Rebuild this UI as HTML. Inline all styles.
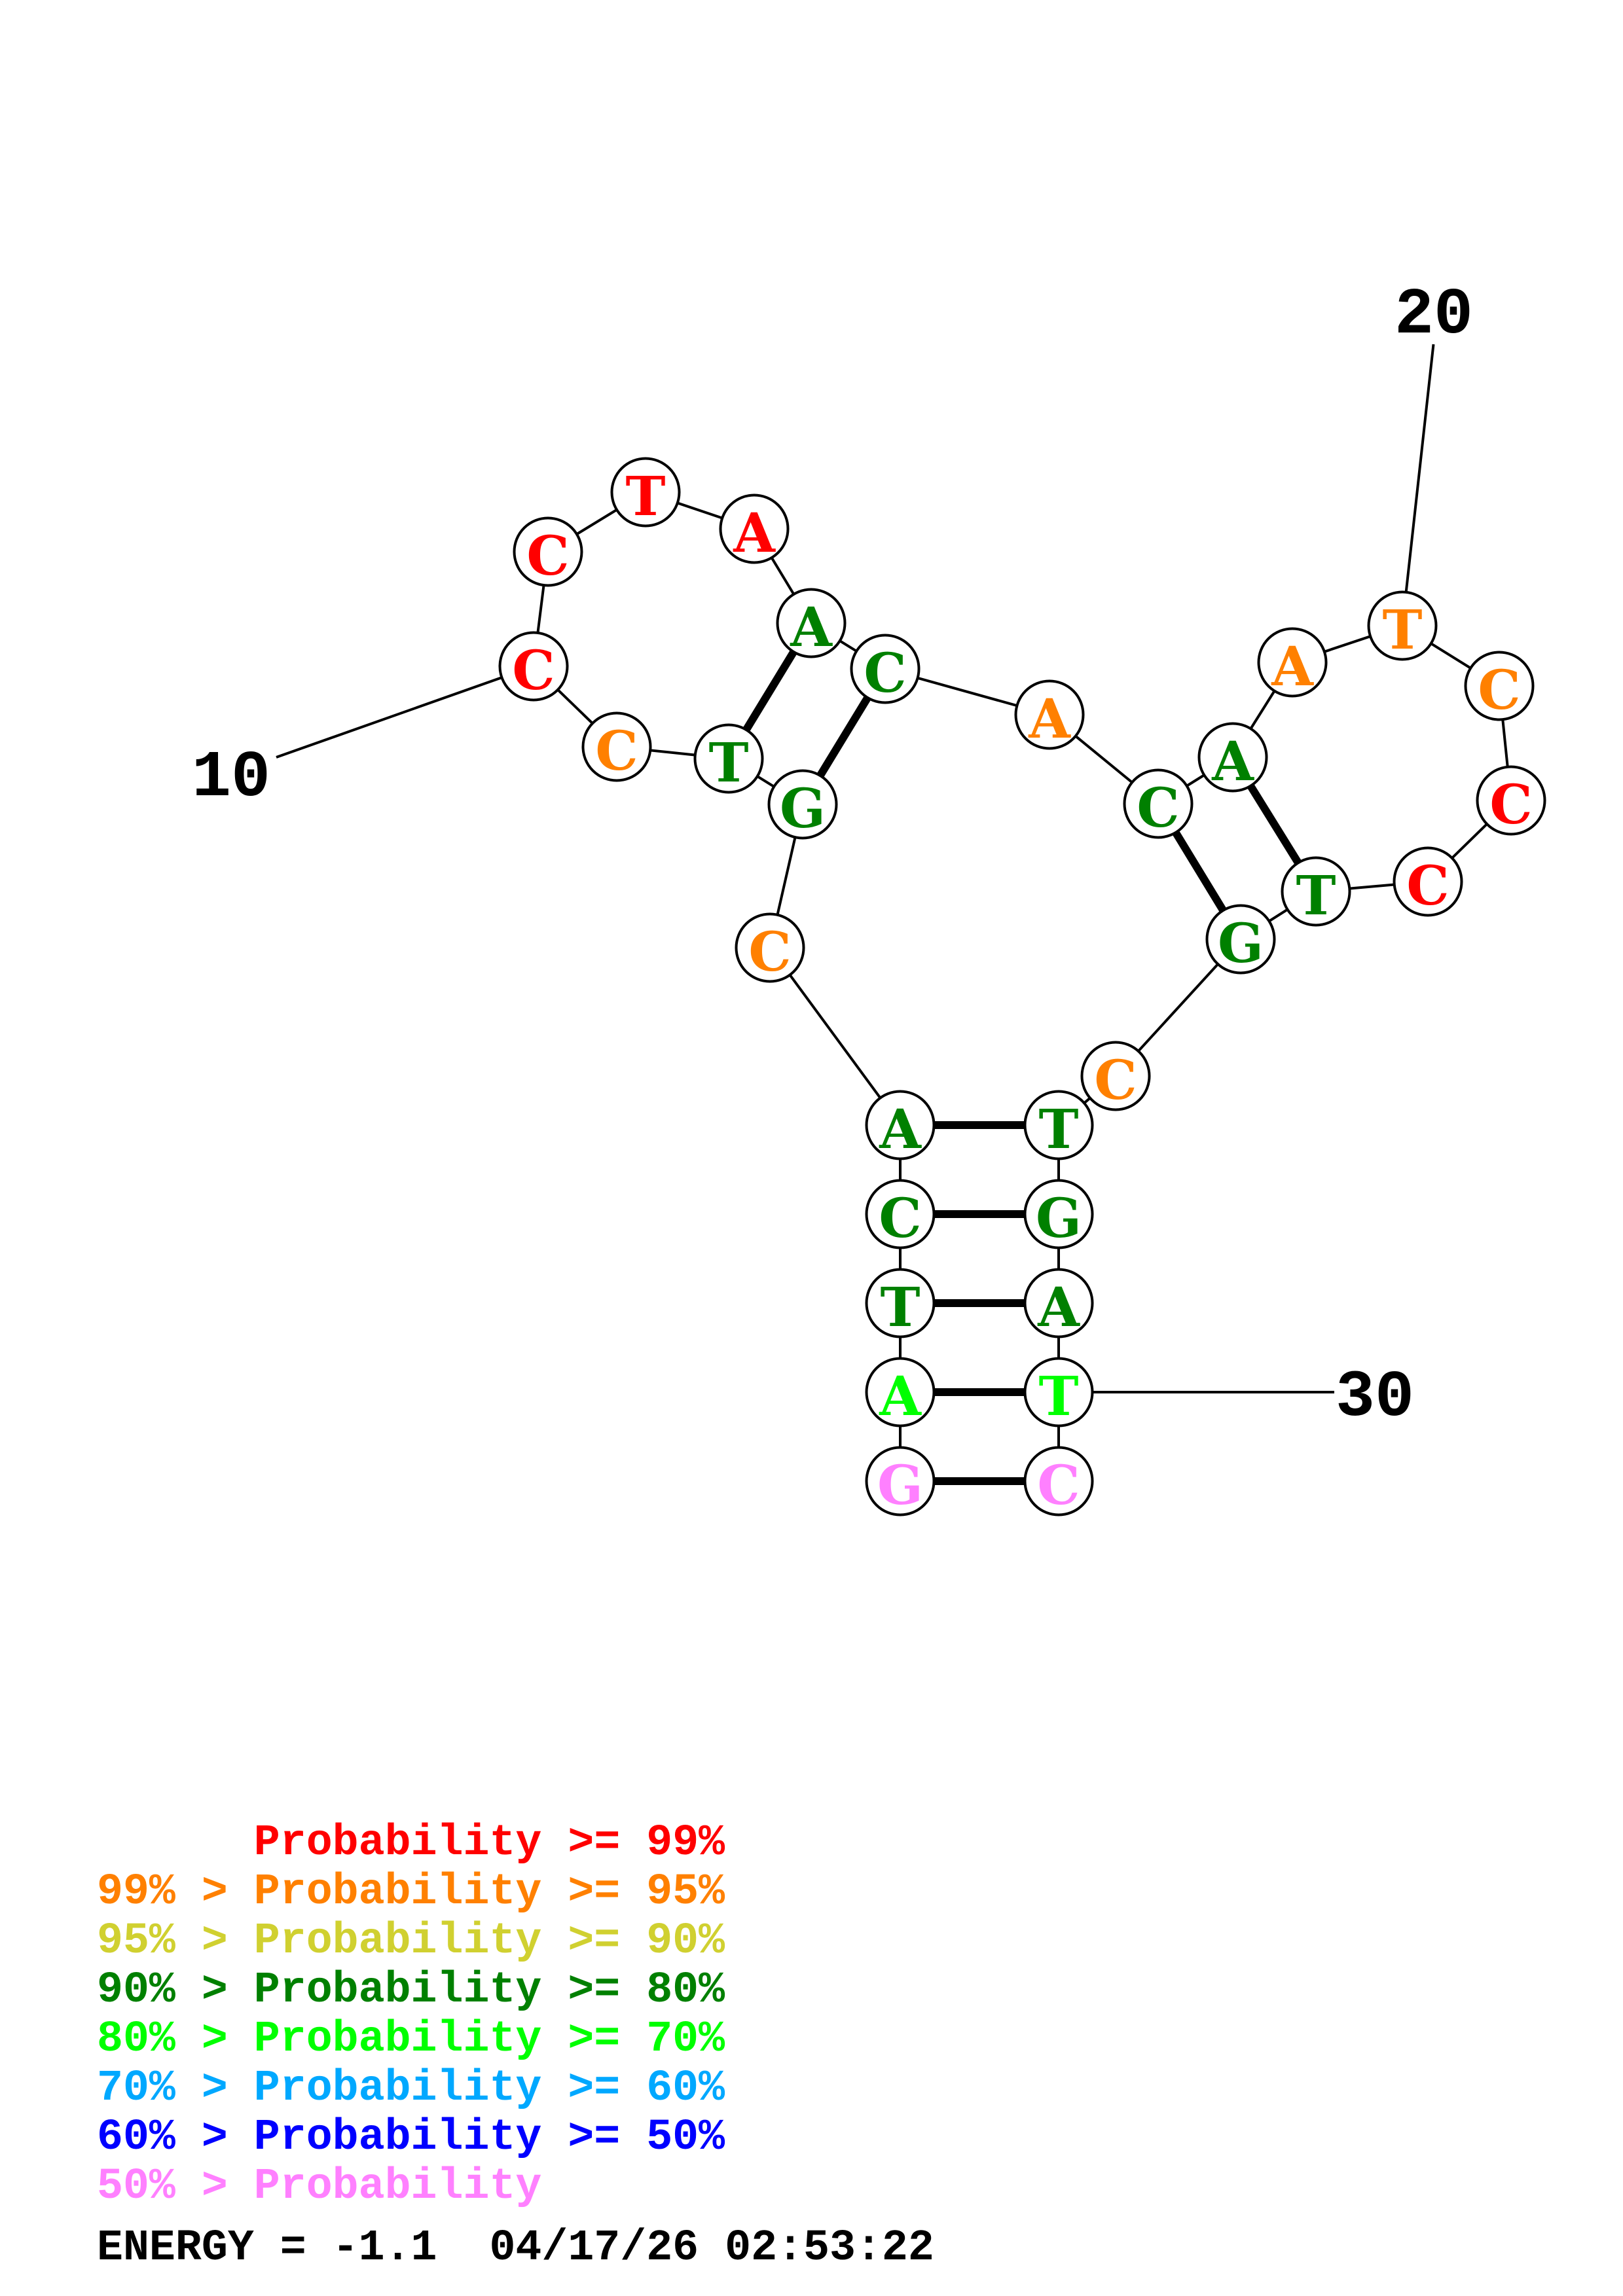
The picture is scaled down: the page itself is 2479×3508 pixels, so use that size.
<!DOCTYPE html>
<html>
<head>
<meta charset="utf-8">
<style>
  html, body { margin:0; padding:0; background:#ffffff; }
  svg { display:block; }
  .nt { font-family: "DejaVu Serif", "Liberation Serif", serif; font-weight:bold; font-size:82px; text-anchor:middle; }
  .lbl { font-family: "Liberation Mono", monospace; font-weight:bold; font-size:100px; text-anchor:middle; fill:#000; }
  .leg { font-family: "Liberation Mono", monospace; font-weight:bold; font-size:66.6px; white-space:pre; }
</style>
</head>
<body>
<svg width="2479" height="3508" viewBox="0 0 2479 3508" xmlns="http://www.w3.org/2000/svg">
  <rect x="0" y="0" width="2479" height="3508" fill="#ffffff"/>

  <!-- label lines -->
  <g stroke="#000" stroke-width="4" fill="none">
    <line x1="422" y1="1157" x2="815" y2="1018"/>
    <line x1="2189.5" y1="526" x2="2142" y2="956"/>
    <line x1="2038" y1="2127" x2="1617" y2="2127"/>
  </g>

  <!-- backbone -->
  <polyline fill="none" stroke="#000" stroke-width="4" points="
    1375,2263 1375,2127 1375,1991 1375,1855 1375,1719
    1176,1448 1226,1229 1113,1159 942,1141 815,1018
    837,843 986,752 1152,808 1239,952 1352,1022
    1603,1092 1769,1228 1883,1157 1974,1012 2142,956
    2290,1048 2308,1223 2181,1347 2010,1362 1895,1435
    1704,1644 1617,1719 1617,1855 1617,1991 1617,2127 1617,2263"/>

  <!-- base pairs -->
  <g stroke="#000" stroke-width="12">
    <line x1="1375" y1="2263" x2="1617" y2="2263"/>
    <line x1="1375" y1="2127" x2="1617" y2="2127"/>
    <line x1="1375" y1="1991" x2="1617" y2="1991"/>
    <line x1="1375" y1="1855" x2="1617" y2="1855"/>
    <line x1="1375" y1="1719" x2="1617" y2="1719"/>
    <line x1="1226" y1="1229" x2="1352" y2="1022"/>
    <line x1="1113" y1="1159" x2="1239" y2="952"/>
    <line x1="1769" y1="1228" x2="1895" y2="1435"/>
    <line x1="1883" y1="1157" x2="2010" y2="1362"/>
  </g>

  <!-- nucleotide circles -->
  <g fill="#ffffff" stroke="#000" stroke-width="4">
    <circle cx="1375" cy="2263" r="51.5"/>
    <circle cx="1375" cy="2127" r="51.5"/>
    <circle cx="1375" cy="1991" r="51.5"/>
    <circle cx="1375" cy="1855" r="51.5"/>
    <circle cx="1375" cy="1719" r="51.5"/>
    <circle cx="1176" cy="1448" r="51.5"/>
    <circle cx="1226" cy="1229" r="51.5"/>
    <circle cx="1113" cy="1159" r="51.5"/>
    <circle cx="942" cy="1141" r="51.5"/>
    <circle cx="815" cy="1018" r="51.5"/>
    <circle cx="837" cy="843" r="51.5"/>
    <circle cx="986" cy="752" r="51.5"/>
    <circle cx="1152" cy="808" r="51.5"/>
    <circle cx="1239" cy="952" r="51.5"/>
    <circle cx="1352" cy="1022" r="51.5"/>
    <circle cx="1603" cy="1092" r="51.5"/>
    <circle cx="1769" cy="1228" r="51.5"/>
    <circle cx="1883" cy="1157" r="51.5"/>
    <circle cx="1974" cy="1012" r="51.5"/>
    <circle cx="2142" cy="956" r="51.5"/>
    <circle cx="2290" cy="1048" r="51.5"/>
    <circle cx="2308" cy="1223" r="51.5"/>
    <circle cx="2181" cy="1347" r="51.5"/>
    <circle cx="2010" cy="1362" r="51.5"/>
    <circle cx="1895" cy="1435" r="51.5"/>
    <circle cx="1704" cy="1644" r="51.5"/>
    <circle cx="1617" cy="1719" r="51.5"/>
    <circle cx="1617" cy="1855" r="51.5"/>
    <circle cx="1617" cy="1991" r="51.5"/>
    <circle cx="1617" cy="2127" r="51.5"/>
    <circle cx="1617" cy="2263" r="51.5"/>
  </g>

  <!-- nucleotide letters -->
  <g class="nt">
    <text x="1375" y="2298" fill="#ff80ff">G</text>
    <text x="1375" y="2162" fill="#00ff00">A</text>
    <text x="1375" y="2026" fill="#008000">T</text>
    <text x="1375" y="1890" fill="#008000">C</text>
    <text x="1375" y="1754" fill="#008000">A</text>
    <text x="1176" y="1483" fill="#ff8000">C</text>
    <text x="1226" y="1264" fill="#008000">G</text>
    <text x="1113" y="1194" fill="#008000">T</text>
    <text x="942" y="1176" fill="#ff8000">C</text>
    <text x="815" y="1053" fill="#ff0000">C</text>
    <text x="837" y="878" fill="#ff0000">C</text>
    <text x="986" y="787" fill="#ff0000">T</text>
    <text x="1152" y="843" fill="#ff0000">A</text>
    <text x="1239" y="987" fill="#008000">A</text>
    <text x="1352" y="1057" fill="#008000">C</text>
    <text x="1603" y="1127" fill="#ff8000">A</text>
    <text x="1769" y="1263" fill="#008000">C</text>
    <text x="1883" y="1192" fill="#008000">A</text>
    <text x="1974" y="1047" fill="#ff8000">A</text>
    <text x="2142" y="991" fill="#ff8000">T</text>
    <text x="2290" y="1083" fill="#ff8000">C</text>
    <text x="2308" y="1258" fill="#ff0000">C</text>
    <text x="2181" y="1382" fill="#ff0000">C</text>
    <text x="2010" y="1397" fill="#008000">T</text>
    <text x="1895" y="1470" fill="#008000">G</text>
    <text x="1704" y="1679" fill="#ff8000">C</text>
    <text x="1617" y="1754" fill="#008000">T</text>
    <text x="1617" y="1890" fill="#008000">G</text>
    <text x="1617" y="2026" fill="#008000">A</text>
    <text x="1617" y="2162" fill="#00ff00">T</text>
    <text x="1617" y="2298" fill="#ff80ff">C</text>
  </g>

  <!-- numbering labels -->
  <text class="lbl" x="353" y="1215">10</text>
  <text class="lbl" x="2190" y="508">20</text>
  <text class="lbl" x="2100" y="2162">30</text>

  <!-- legend -->
  <g class="leg">
    <text x="387.8" y="2833" fill="#ff0000">Probability &gt;= 99%</text>
    <text x="148" y="2908" fill="#ff8000" xml:space="preserve">99% &gt; Probability &gt;= 95%</text>
    <text x="148" y="2983" fill="#d0d030" xml:space="preserve">95% &gt; Probability &gt;= 90%</text>
    <text x="148" y="3058" fill="#008000" xml:space="preserve">90% &gt; Probability &gt;= 80%</text>
    <text x="148" y="3133" fill="#00ff00" xml:space="preserve">80% &gt; Probability &gt;= 70%</text>
    <text x="148" y="3208" fill="#00a8ff" xml:space="preserve">70% &gt; Probability &gt;= 60%</text>
    <text x="148" y="3283" fill="#0000ff" xml:space="preserve">60% &gt; Probability &gt;= 50%</text>
    <text x="148" y="3358" fill="#ff80ff" xml:space="preserve">50% &gt; Probability</text>
    <text x="148" y="3452" fill="#000000" xml:space="preserve">ENERGY = -1.1  04/17/26 02:53:22</text>
  </g>
</svg>
</body>
</html>
